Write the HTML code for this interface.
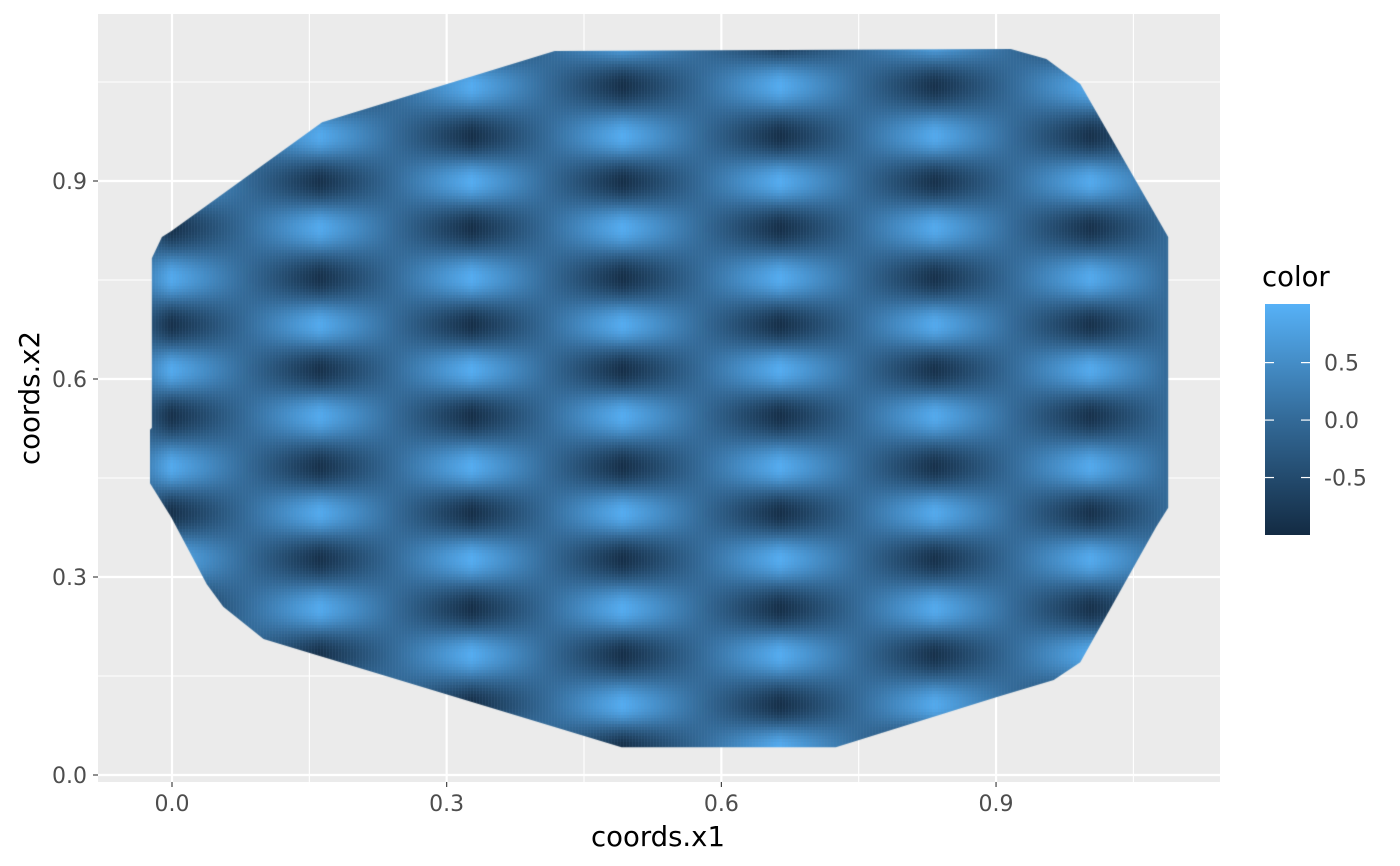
<!DOCTYPE html>
<html><head><meta charset="utf-8"><style>
body{margin:0;background:#fff;width:1400px;height:866px;overflow:hidden;font-family:"DejaVu Sans","Liberation Sans",sans-serif}
#wrap{position:relative;width:1400px;height:866px}
canvas{position:absolute;left:0;top:0}
svg{position:absolute;left:0;top:0;font-family:"DejaVu Sans","Liberation Sans",sans-serif}
</style></head><body>
<div id="wrap">
<svg id="bg" width="1400" height="866"></svg>
<canvas id="cv" width="1400" height="866"></canvas>
<svg id="fg" width="1400" height="866"></svg>
</div>
<script>
// ---- data ----
const xTicks = [0.0, 0.3, 0.6, 0.9];
const xTickLabels = ["0.0", "0.3", "0.6", "0.9"];
const yTicks = [0.0, 0.3, 0.6, 0.9];
const yTickLabels = ["0.0", "0.3", "0.6", "0.9"];
const xMinor = [0.15, 0.45, 0.75, 1.05];
const yMinor = [0.15, 0.45, 0.75, 1.05];
// column profile along x1 (extremes)
const xNodes = [-0.08, -0.001, 0.161, 0.327, 0.492, 0.664, 0.833, 1.003, 1.17];
const xAmp   = [-0.9, 0.92, -0.92, 0.95, -0.95, 0.95, -0.92, 0.92, -0.9];
// band profile along x2
const yNodes = [-0.03, 0.041, 0.106, 0.182, 0.252, 0.327, 0.397, 0.467, 0.544, 0.614, 0.682, 0.753, 0.829, 0.899, 0.968, 1.044, 1.116];
const yWave  = [-1, 1, -1, 1, -1, 1, -1, 1, -1, 1, -1, 1, -1, 1, -1, 1, -1];
// convex hull of sampled region (data coords)
const hullX = [-0.022,-0.011,-0.001,0.164,0.418,0.916,0.955,0.992,1.088,1.088,1.075,0.992,0.963,0.901,0.725,0.491,0.100,0.056,0.038,-0.001,-0.024,-0.024,-0.022];
const hullY = [0.783,0.815,0.824,0.989,1.097,1.100,1.085,1.047,0.815,0.405,0.376,0.171,0.144,0.118,0.042,0.042,0.206,0.255,0.289,0.391,0.442,0.523,0.526];
const legendTicks = [0.5, 0.0, -0.5];
const legendTickLabels = ["0.5", "0.0", "-0.5"];
const colorMin = -1.0, colorMax = 1.01;

// ---- scales ----
const P = {l:98, r:1220, t:14, b:782};
const sx = v => 172 + 915.6*v;
const sy = v => 775 - 660*v;
const NS = "http://www.w3.org/2000/svg";
function mk(parent, tag, attrs, name, text){
  const e = document.createElementNS(NS, tag);
  for (const k in attrs) e.setAttribute(k, attrs[k]);
  
  
  if (text !== undefined) e.textContent = text;
  parent.appendChild(e); return e;
}
const bg = document.getElementById('bg'), fg = document.getElementById('fg');
mk(bg,'rect',{x:P.l,y:P.t,width:P.r-P.l,height:P.b-P.t,fill:'#ebebeb'},'panel');
xMinor.forEach(v=>mk(bg,'line',{x1:sx(v),x2:sx(v),y1:P.t,y2:P.b,stroke:'#fff','stroke-width':1.1},'x-minor-gridline'));
yMinor.forEach(v=>mk(bg,'line',{x1:P.l,x2:P.r,y1:sy(v),y2:sy(v),stroke:'#fff','stroke-width':1.1},'y-minor-gridline'));
xTicks.forEach(v=>mk(bg,'line',{x1:sx(v),x2:sx(v),y1:P.t,y2:P.b,stroke:'#fff','stroke-width':2.2},'x-major-gridline'));
yTicks.forEach(v=>mk(bg,'line',{x1:P.l,x2:P.r,y1:sy(v),y2:sy(v),stroke:'#fff','stroke-width':2.2},'y-major-gridline'));

// ---- raster ----
function interp(nodes, vals, v, smooth){
  if (v <= nodes[0]) return vals[0];
  for (let i=0;i<nodes.length-1;i++){
    if (v <= nodes[i+1]){
      const t=(v-nodes[i])/(nodes[i+1]-nodes[i]);
      const s=smooth?(1-Math.cos(Math.PI*t))/2:t;
      return vals[i]+(vals[i+1]-vals[i])*s;
    }
  }
  return vals[vals.length-1];
}
const lo=[0x13,0x2B,0x43], mid=[0x33,0x6A,0x98], hi=[0x56,0xB1,0xF7];
function col(v){
  let t=(v-colorMin)/(colorMax-colorMin); t=Math.max(0,Math.min(1,t));
  let a,b,u;
  if (t<0.5){a=lo;b=mid;u=t*2;} else {a=mid;b=hi;u=(t-0.5)*2;}
  return 'rgb('+a.map((c,i)=>Math.round(c+(b[i]-c)*u)).join(',')+')';
}
const cv=document.getElementById('cv'), ctx=cv.getContext('2d');
ctx.save();
ctx.beginPath();
hullX.forEach((x,i)=>{ i?ctx.lineTo(sx(x),sy(hullY[i])):ctx.moveTo(sx(x),sy(hullY[i])); });
ctx.closePath(); ctx.clip();
const step=3;
for (let px=140; px<1180; px+=step){
  const xv=(px+step/2-172)/915.6;
  const a=interp(xNodes,xAmp,xv,false);
  for (let py=40; py<760; py+=step){
    const yv=(775-(py+step/2))/660;
    ctx.fillStyle=col(a*interp(yNodes,yWave,yv,true));
    ctx.fillRect(px,py,step,step);
  }
}
ctx.fillStyle='rgba(120,160,200,0.12)';
for (let px=140; px<1180; px+=3) ctx.fillRect(px,40,1,720);
ctx.restore();

// ---- axes ----
xTicks.forEach((v,i)=>{
  mk(fg,'line',{x1:sx(v),x2:sx(v),y1:P.b,y2:P.b+5,stroke:'#333','stroke-width':1.1},'x-tick');
  mk(fg,'text',{x:sx(v),y:811,'text-anchor':'middle','font-size':22,fill:'#4d4d4d'},'x-tick-label',xTickLabels[i]);
});
yTicks.forEach((v,i)=>{
  mk(fg,'line',{x1:P.l-5,x2:P.l,y1:sy(v),y2:sy(v),stroke:'#333','stroke-width':1.1},'y-tick');
  mk(fg,'text',{x:87,y:sy(v)+8,'text-anchor':'end','font-size':22,fill:'#4d4d4d'},'y-tick-label',yTickLabels[i]);
});
mk(fg,'text',{x:658,y:846,'text-anchor':'middle','font-size':27.5,fill:'#000'},'x-axis-title','coords.x1');
mk(fg,'text',{x:39,y:398,'text-anchor':'middle','font-size':27.5,fill:'#000',transform:'rotate(-90 39 398)'},'y-axis-title','coords.x2');

// ---- legend ----
const L={x:1265,w:45,t:304,b:535};
const ly=v=>L.b-(v-colorMin)/(colorMax-colorMin)*(L.b-L.t);
mk(fg,'text',{x:1262,y:286,'font-size':27.5,fill:'#000'},'legend-title','color');
const defs=mk(fg,'defs',{},'legend-defs');
const g=mk(defs,'linearGradient',{id:'lg',x1:0,y1:1,x2:0,y2:0},'legend-gradient');
mk(g,'stop',{offset:0,'stop-color':'#132B43'},'gradient-low');
mk(g,'stop',{offset:0.5,'stop-color':'#336A98'},'gradient-mid');
mk(g,'stop',{offset:1,'stop-color':'#56B1F7'},'gradient-high');
mk(fg,'rect',{x:L.x,y:L.t,width:L.w,height:L.b-L.t,fill:'url(#lg)'},'legend-colorbar');
legendTicks.forEach((v,i)=>{
  mk(fg,'line',{x1:L.x,x2:L.x+9,y1:ly(v),y2:ly(v),stroke:'#fff','stroke-width':1.2},'legend-tick-left');
  mk(fg,'line',{x1:L.x+L.w-9,x2:L.x+L.w,y1:ly(v),y2:ly(v),stroke:'#fff','stroke-width':1.2},'legend-tick-right');
  mk(fg,'text',{x:1324,y:ly(v)+8,'font-size':22,fill:'#4d4d4d'},'legend-label',legendTickLabels[i]);
});
</script>
</body></html>
